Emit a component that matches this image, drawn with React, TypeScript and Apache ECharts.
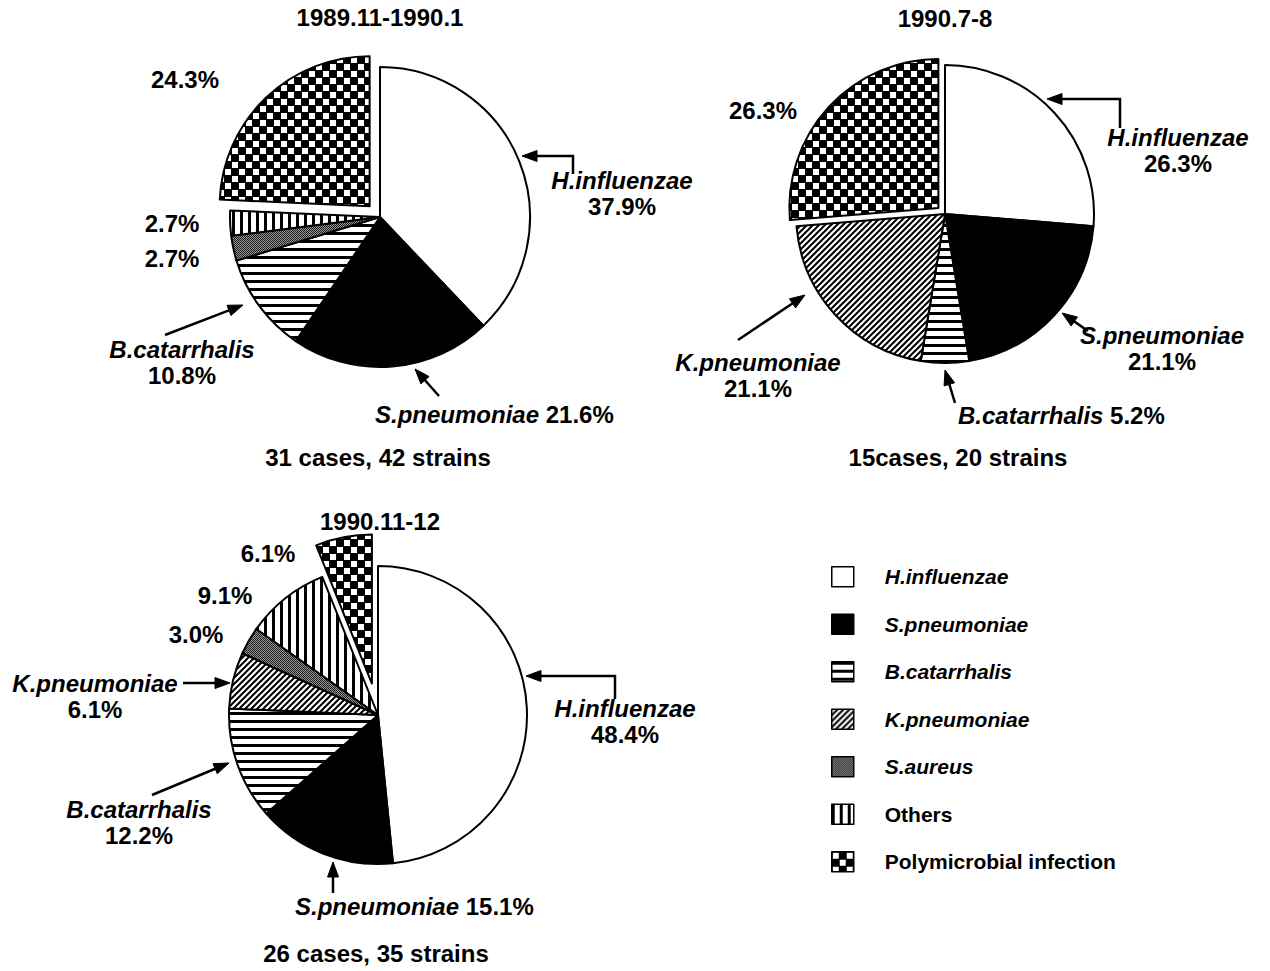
import React, { useEffect, useRef } from 'react';
import * as echarts from 'echarts';

// ---------- data ----------
const CATEGORIES = [
  'H.influenzae',
  'S.pneumoniae',
  'B.catarrhalis',
  'K.pneumoniae',
  'S.aureus',
  'Others',
  'Polymicrobial infection',
];
const ITALIC_CATEGORIES = ['H.influenzae', 'S.pneumoniae', 'B.catarrhalis', 'K.pneumoniae', 'S.aureus'];

const PIE_TITLES = ['1989.11-1990.1', '1990.7-8', '1990.11-12'];
const PIE_CAPTIONS = ['31 cases, 42 strains', '15cases, 20 strains', '26 cases, 35 strains'];

const PIE1_NAMES = ['H.influenzae', 'S.pneumoniae', 'B.catarrhalis', 'S.aureus', 'Others', 'Polymicrobial infection'];
const PIE1_VALUES = [37.9, 21.6, 10.8, 2.7, 2.7, 24.3];

const PIE2_NAMES = ['H.influenzae', 'S.pneumoniae', 'B.catarrhalis', 'K.pneumoniae', 'Polymicrobial infection'];
const PIE2_VALUES = [26.3, 21.1, 5.2, 21.1, 26.3];

const PIE3_NAMES = ['H.influenzae', 'S.pneumoniae', 'B.catarrhalis', 'K.pneumoniae', 'S.aureus', 'Others', 'Polymicrobial infection'];
const PIE3_VALUES = [48.4, 15.1, 12.2, 6.1, 3.0, 9.1, 6.1];

const EXPLODED = 'Polymicrobial infection';

// ---------- layout (positions / styles only) ----------
type Align = 'left' | 'center' | 'right';
type LabelSpec = { kind: 'two' | 'one' | 'pct'; x: number; y: number; align: Align };

const PIE_LAYOUT = [
  {
    center: [380, 217], radius: 150, offset: 15,
    title: [380, 17], caption: [378, 457],
    labels: [
      { kind: 'two', x: 622, y: 193, align: 'center' },
      { kind: 'one', x: 375, y: 414, align: 'left' },
      { kind: 'two', x: 182, y: 362, align: 'center' },
      { kind: 'pct', x: 172, y: 258, align: 'center' },
      { kind: 'pct', x: 172, y: 223, align: 'center' },
      { kind: 'pct', x: 185, y: 79, align: 'center' },
    ] as LabelSpec[],
    arrows: [
      [[573, 174], [573, 156], [522, 156]],
      [[439, 396], [415, 369]],
      [[165, 335], [243, 305]],
    ],
  },
  {
    center: [945, 214], radius: 149, offset: 9,
    title: [945, 18], caption: [958, 457],
    labels: [
      { kind: 'two', x: 1178, y: 150, align: 'center' },
      { kind: 'two', x: 1162, y: 348, align: 'center' },
      { kind: 'one', x: 958, y: 415, align: 'left' },
      { kind: 'two', x: 758, y: 375, align: 'center' },
      { kind: 'pct', x: 763, y: 110, align: 'center' },
    ] as LabelSpec[],
    arrows: [
      [[1120, 128], [1120, 99], [1047, 99]],
      [[1088, 331], [1062, 313]],
      [[955, 403], [945, 370]],
      [[738, 340], [805, 295]],
    ],
  },
  {
    center: [378, 715], radius: 149, offset: 32,
    title: [380, 521], caption: [376, 953],
    labels: [
      { kind: 'two', x: 625, y: 721, align: 'center' },
      { kind: 'one', x: 295, y: 906, align: 'left' },
      { kind: 'two', x: 139, y: 822, align: 'center' },
      { kind: 'two', x: 95, y: 696, align: 'center' },
      { kind: 'pct', x: 196, y: 634, align: 'center' },
      { kind: 'pct', x: 225, y: 595, align: 'center' },
      { kind: 'pct', x: 268, y: 553, align: 'center' },
    ] as LabelSpec[],
    arrows: [
      [[615, 699], [615, 676], [526, 676]],
      [[333, 893], [333, 862]],
      [[152, 795], [229, 763]],
      [[183, 683], [230, 683]],
    ],
  },
];

const FONT = '"Liberation Sans", Arial, Helvetica, sans-serif';
const FS = 24;
const CLEAR = 'rgba(0,0,0,0)';

function makePattern(w: number, h: number, draw: (ctx: CanvasRenderingContext2D) => void) {
  const c = document.createElement('canvas');
  c.width = w;
  c.height = h;
  const ctx = c.getContext('2d') as CanvasRenderingContext2D;
  draw(ctx);
  return { image: c.toDataURL(), repeat: 'repeat', imageWidth: w, imageHeight: h } as any;
}

function buildFills(): Record<string, any> {
  const hStripe = makePattern(8, 8, (ctx) => {
    ctx.fillStyle = '#fff'; ctx.fillRect(0, 0, 8, 8);
    ctx.fillStyle = '#000'; ctx.fillRect(0, 0, 8, 3);
  });
  const vStripe = makePattern(8, 8, (ctx) => {
    ctx.fillStyle = '#fff'; ctx.fillRect(0, 0, 8, 8);
    ctx.fillStyle = '#000'; ctx.fillRect(0, 0, 3, 8);
  });
  const diag = makePattern(6, 6, (ctx) => {
    ctx.fillStyle = '#fff'; ctx.fillRect(0, 0, 6, 6);
    ctx.strokeStyle = '#000'; ctx.lineWidth = 2;
    ctx.beginPath();
    ctx.moveTo(-1, 7); ctx.lineTo(7, -1);
    ctx.moveTo(-4, 4); ctx.lineTo(4, -4);
    ctx.moveTo(2, 10); ctx.lineTo(10, 2);
    ctx.stroke();
  });
  const gray = makePattern(2, 2, (ctx) => {
    ctx.fillStyle = '#999'; ctx.fillRect(0, 0, 2, 2);
    ctx.fillStyle = '#1a1a1a'; ctx.fillRect(0, 0, 1, 1); ctx.fillRect(1, 1, 1, 1);
  });
  const checker = makePattern(14, 14, (ctx) => {
    ctx.fillStyle = '#000'; ctx.fillRect(0, 0, 14, 14);
    ctx.fillStyle = '#fff'; ctx.fillRect(1, 1, 6, 6); ctx.fillRect(8, 8, 6, 6);
  });
  return {
    'H.influenzae': '#ffffff',
    'S.pneumoniae': '#000000',
    'B.catarrhalis': hStripe,
    'K.pneumoniae': diag,
    'S.aureus': gray,
    'Others': vStripe,
    'Polymicrobial infection': checker,
  };
}

function arrowGraphics(points: number[][]) {
  const n = points.length;
  const tip = points[n - 1];
  const prev = points[n - 2];
  const dx = tip[0] - prev[0];
  const dy = tip[1] - prev[1];
  const len = Math.sqrt(dx * dx + dy * dy);
  const ux = dx / len, uy = dy / len;
  const L = 15, W = 5.5;
  const bx = tip[0] - ux * L, by = tip[1] - uy * L;
  const linePts = points.slice(0, n - 1).concat([[bx + ux * 2, by + uy * 2]]);
  return [
    {
      type: 'polyline',
      shape: { points: linePts },
      style: { stroke: '#000', lineWidth: 2.5, fill: null },
      silent: true,
    },
    {
      type: 'polygon',
      shape: { points: [tip, [bx - uy * W, by + ux * W], [bx + uy * W, by - ux * W]] },
      style: { fill: '#000', stroke: '#000', lineWidth: 1 },
      silent: true,
    },
  ];
}

export default function App() {
  const ref = useRef<HTMLDivElement>(null);

  useEffect(() => {
    if (!ref.current) return;
    const chart = echarts.init(ref.current, undefined, { renderer: 'svg' });
    const fills = buildFills();

    const pieNames = [PIE1_NAMES, PIE2_NAMES, PIE3_NAMES];
    const pieValues = [PIE1_VALUES, PIE2_VALUES, PIE3_VALUES];

    const rich = {
      i: { fontFamily: FONT, fontSize: FS, fontWeight: 'bold', fontStyle: 'italic', color: '#000', lineHeight: 26 },
      n: { fontFamily: FONT, fontSize: FS, fontWeight: 'bold', color: '#000', lineHeight: 26 },
    };

    const mainSeries = pieNames.map((names, si) => {
      const lay = PIE_LAYOUT[si];
      const values = pieValues[si];
      return {
        type: 'pie',
        center: lay.center,
        radius: lay.radius,
        startAngle: 90,
        clockwise: true,
        avoidLabelOverlap: false,
        silent: true,
        itemStyle: { borderColor: '#000', borderWidth: 2 },
        labelLine: { show: false },
        label: {
          show: true,
          position: 'outside',
          color: '#000',
          fontFamily: FONT,
          fontSize: FS,
          fontWeight: 'bold',
          rich,
          formatter: (p: any) => {
            const spec = lay.labels[p.dataIndex];
            const pct = `${Number(p.value).toFixed(1)}%`;
            if (spec.kind === 'two') return `{i|${p.name}}\n{n|${pct}}`;
            if (spec.kind === 'one') return `{i|${p.name}} {n|${pct}}`;
            return `{n|${pct}}`;
          },
        },
        labelLayout: (p: any) => {
          const spec = lay.labels[p.dataIndex];
          return { x: spec.x, y: spec.y, align: spec.align, verticalAlign: 'middle' };
        },
        data: names.map((name, i) => ({
          name,
          value: values[i],
          itemStyle:
            name === EXPLODED
              ? { color: CLEAR, borderWidth: 0 }
              : { color: fills[name] },
        })),
      };
    });

    // the exploded slice, drawn by a twin pie whose centre is pushed out along the slice's mid-angle
    const explodeSeries = pieNames.map((names, si) => {
      const lay = PIE_LAYOUT[si];
      const values = pieValues[si];
      const total = values.reduce((a, b) => a + b, 0);
      const idx = names.indexOf(EXPLODED);
      const before = values.slice(0, idx).reduce((a, b) => a + b, 0);
      const mid = ((before + values[idx] / 2) / total) * Math.PI * 2;
      const cx = lay.center[0] + lay.offset * Math.sin(mid);
      const cy = lay.center[1] - lay.offset * Math.cos(mid);
      return {
        type: 'pie',
        center: [cx, cy],
        radius: lay.radius,
        startAngle: 90,
        clockwise: true,
        silent: true,
        label: { show: false },
        labelLine: { show: false },
        data: names.map((name, i) => ({
          name,
          value: values[i],
          itemStyle:
            name === EXPLODED
              ? { color: fills[name], borderColor: '#000', borderWidth: 2 }
              : { color: CLEAR, borderWidth: 0 },
        })),
      };
    });

    const graphics: any[] = [];
    PIE_LAYOUT.forEach((lay, si) => {
      graphics.push({
        type: 'text',
        x: lay.title[0], y: lay.title[1],
        style: { text: PIE_TITLES[si], font: `bold ${FS}px ${FONT}`, fill: '#000', align: 'center', verticalAlign: 'middle' },
        silent: true,
      });
      graphics.push({
        type: 'text',
        x: lay.caption[0], y: lay.caption[1],
        style: { text: PIE_CAPTIONS[si], font: `bold ${FS}px ${FONT}`, fill: '#000', align: 'center', verticalAlign: 'middle' },
        silent: true,
      });
      lay.arrows.forEach((pts) => graphics.push(...arrowGraphics(pts)));
    });

    chart.setOption({
      animation: false,
      backgroundColor: '#ffffff',
      textStyle: { fontFamily: FONT },
      legend: {
        orient: 'vertical',
        left: 826,
        top: 561,
        itemWidth: 22,
        itemHeight: 20,
        itemGap: 26,
        icon: 'rect',
        selectedMode: false,
        itemStyle: { borderColor: '#000', borderWidth: 1.5 },
        textStyle: {
          fontFamily: FONT, fontSize: 21, fontWeight: 'bold', color: '#000',
          lineHeight: 20, padding: [0, 0, 0, 26],
        },
        data: CATEGORIES.map((name) => ({
          name,
          itemStyle: { color: fills[name], borderColor: '#000', borderWidth: 1.5 },
          textStyle: { fontStyle: ITALIC_CATEGORIES.includes(name) ? 'italic' : 'normal' },
        })),
      },
      series: [...mainSeries, ...explodeSeries],
      graphic: graphics,
    } as any);

    return () => chart.dispose();
  }, []);

  return (
    <div
      ref={ref}
      style={{ position: 'fixed', left: 0, top: 0, width: 1270, height: 971, background: '#fff' }}
    />
  );
}
